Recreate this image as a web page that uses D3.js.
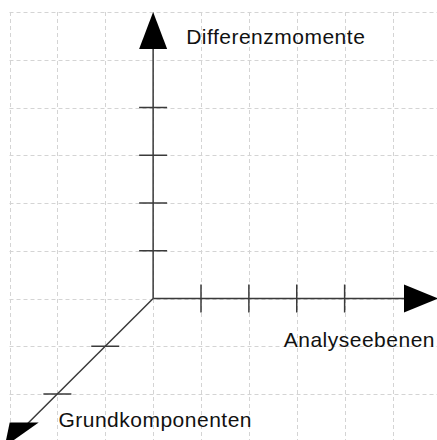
<!DOCTYPE html>
<html><head><meta charset="utf-8">
<script src="https://cdn.jsdelivr.net/npm/d3@7"></script>
<style>html,body{margin:0;padding:0;background:#fff;}svg{display:block;}</style>
</head><body>
<script>
// Data
const axisLabels = ["Differenzmomente", "Analyseebenen", "Grundkomponenten"];
const verticalTicks = [1, 2, 3, 4];      // Differenzmomente ticks
const horizontalTicks = [1, 2, 3, 4];    // Analyseebenen ticks
const depthTicks = [1, 2];               // Grundkomponenten ticks
const gridCols = [0, 1, 2, 3, 4, 5, 6, 7, 8];
const gridRows = [0, 1, 2, 3, 4, 5, 6, 7, 8];
const originUnit = [3, 6];
const axisLength = { vertical: 6, horizontal: 5.95, depth: 3.1 };

const W = 437, H = 440;
const svg = d3.select("body").append("svg").attr("width", W).attr("height", H);

const xs = d3.scaleLinear().domain([0, 8]).range([9.5, 392.5]);
const ys = d3.scaleLinear().domain([0, 8]).range([12, 394]);

// grid
const g = svg.append("g").attr("stroke", "#d4d4d4").attr("stroke-width", 1).attr("stroke-dasharray", "4,3").attr("fill", "none");
g.selectAll("line.v").data(gridCols).join("line").attr("class", "v")
  .attr("x1", d => Math.round(xs(d)) + 0.5).attr("x2", d => Math.round(xs(d)) + 0.5)
  .attr("y1", ys(0)).attr("y2", H);
g.selectAll("line.h").data(gridRows).join("line").attr("class", "h")
  .attr("y1", d => Math.round(ys(d)) + 0.5).attr("y2", d => Math.round(ys(d)) + 0.5)
  .attr("x1", xs(0)).attr("x2", W);

const ox = xs(originUnit[0]), oy = ys(originUnit[1]);
const axisColor = "#3a3a3a";
const ax = svg.append("g").attr("stroke", axisColor).attr("stroke-width", 1.5).attr("fill", "none");

// vertical axis
const vTipY = ys(originUnit[1] - axisLength.vertical);
ax.append("line").attr("x1", ox).attr("x2", ox).attr("y1", oy).attr("y2", vTipY + 30);
ax.selectAll("line.vt").data(verticalTicks).join("line").attr("class", "vt")
  .attr("x1", ox - 14).attr("x2", ox + 14)
  .attr("y1", d => ys(originUnit[1] - d)).attr("y2", d => ys(originUnit[1] - d));
svg.append("path").attr("fill", "#000")
  .attr("d", `M${ox},${vTipY} L${ox + 14},${vTipY + 37} L${ox - 14},${vTipY + 37} Z`);

// horizontal axis
const hTipX = xs(originUnit[0] + axisLength.horizontal);
ax.append("line").attr("x1", ox).attr("x2", hTipX - 30).attr("y1", oy).attr("y2", oy);
ax.selectAll("line.ht").data(horizontalTicks).join("line").attr("class", "ht")
  .attr("x1", d => xs(originUnit[0] + d)).attr("x2", d => xs(originUnit[0] + d))
  .attr("y1", oy - 14).attr("y2", oy + 14);
svg.append("path").attr("fill", "#000")
  .attr("d", `M${hTipX},${oy} L${hTipX - 34},${oy - 14} L${hTipX - 34},${oy + 14} Z`);

// depth axis (diagonal down-left)
const dTipX = xs(originUnit[0] - axisLength.depth), dTipY = ys(originUnit[1] + axisLength.depth);
ax.append("line").attr("x1", ox).attr("y1", oy).attr("x2", dTipX + 22).attr("y2", dTipY - 22);
ax.selectAll("line.dt").data(depthTicks).join("line").attr("class", "dt")
  .attr("x1", d => xs(originUnit[0] - d) - 14).attr("x2", d => xs(originUnit[0] - d) + 14)
  .attr("y1", d => ys(originUnit[1] + d)).attr("y2", d => ys(originUnit[1] + d));
svg.append("path").attr("fill", "#000")
  .attr("d", `M${dTipX},${dTipY} L${dTipX + 5},${dTipY - 24} L${dTipX + 34},${dTipY - 24} Z`);

// labels
const font = "'Liberation Sans', Arial, Helvetica, sans-serif";
const lab = svg.append("g").attr("fill", "#111").attr("font-family", font).attr("font-size", 21).attr("letter-spacing", 0.5);
lab.append("text").attr("x", ox + 33).attr("y", vTipY + 32).text(axisLabels[0]);
lab.append("text").attr("x", W - 2).attr("y", oy + 48).attr("text-anchor", "end").text(axisLabels[1]);
lab.append("text").attr("x", xs(originUnit[0] - 2) + 1).attr("y", ys(originUnit[1] + 2.7)).text(axisLabels[2]);
</script>
</body></html>
